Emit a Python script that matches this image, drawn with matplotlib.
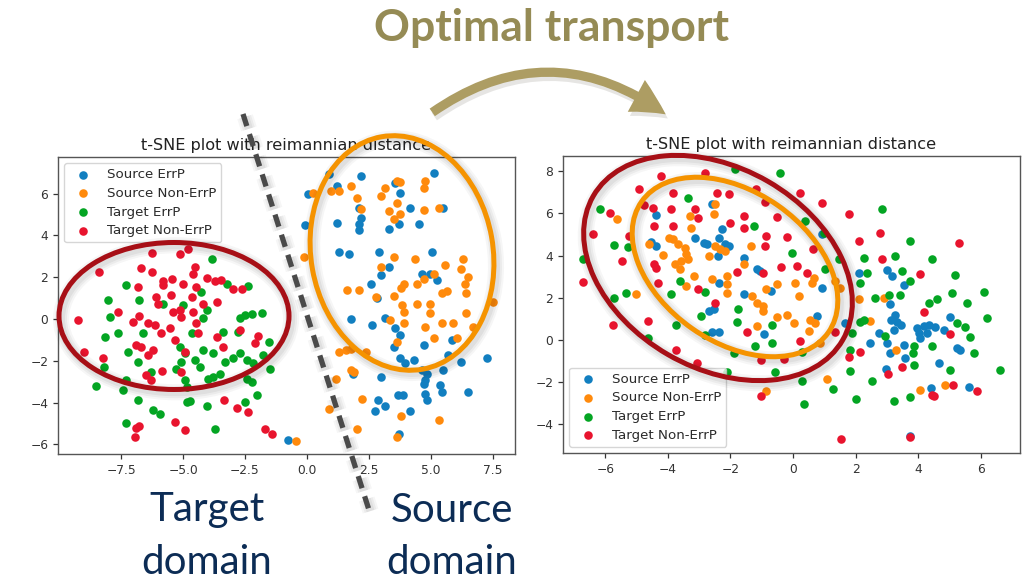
import numpy as np
import matplotlib
matplotlib.use("Agg")
import matplotlib.pyplot as plt
import matplotlib.patheffects as pe
from matplotlib.patches import Ellipse, FancyArrowPatch

# ---------------------------------------------------------------------------
# t-SNE embeddings (x, y) before adaptation
# ---------------------------------------------------------------------------
before_src_errp = np.array([
    (0.90, 6.94), (2.17, 6.86), (5.11, 6.98), (0.03, 5.96), (1.23, 6.35), (3.77, 6.03),
    (3.57, 6.51), (2.10, 5.32), (2.17, 4.85), (2.10, 4.53), (2.10, 4.25), (1.23, 4.61),
    (-0.07, 4.49), (3.30, 4.30), (3.70, 4.53), (4.51, 4.53), (4.17, 5.32), (5.51, 5.32),
    (1.30, 3.19), (1.70, 3.11), (2.90, 3.19), (5.04, 3.19), (3.30, 2.48), (2.97, 2.09),
    (2.57, 1.69), (4.64, 2.16), (4.97, 2.16), (5.24, 1.85), (2.83, 0.98),
    (1.76, -0.02), (2.63, -0.29), (3.17, 0.03), (3.57, -0.45), (3.77, -0.77), (3.50, -1.33),
    (3.77, -1.89), (3.97, -2.10), (4.73, -1.25), (4.33, -1.94), (5.71, -1.73), (5.84, -1.01),
    (6.24, -2.05), (7.25, -1.86), (4.64, -2.46), (4.84, -2.62), (4.77, -2.94), (4.71, -3.10),
    (5.51, -2.46), (5.38, -3.18), (5.44, -3.50), (4.77, -3.58), (4.84, -3.87), (6.51, -3.50),
    (3.66, -3.63), (3.86, -3.63), (3.01, -2.78), (2.87, -3.87), (3.17, -4.14), (2.74, -4.38),
    (4.17, -4.38), (3.70, -5.51), (1.86, -2.65), (-0.78, -5.79),
])
before_src_nonerrp = np.array([
    (0.23, 6.03), (0.96, 6.11), (1.30, 6.11), (1.76, 6.35), (2.03, 5.80), (2.17, 5.24),
    (2.97, 5.88), (3.17, 6.27), (3.64, 6.59), (3.77, 6.56), (4.77, 6.62), (4.73, 6.27),
    (3.64, 5.56), (3.30, 5.17), (3.50, 4.77), (3.77, 5.04), (4.71, 5.20), (5.33, 5.32),
    (-0.11, 2.95), (3.50, 2.95), (4.37, 2.88), (6.31, 2.88), (5.57, 2.56), (6.24, 2.40),
    (6.51, 2.01), (2.97, 2.51), (5.13, 2.13), (4.73, 1.93), (4.45, 1.69), (3.92, 1.69),
    (3.79, 1.50), (6.38, 1.69), (6.44, 1.22), (5.46, 1.25), (5.66, 1.34), (1.63, 1.41),
    (2.10, 1.37), (2.77, 1.06), (3.50, 1.09), (4.44, 0.74), (3.84, 0.66), (3.90, 0.35),
    (4.97, 0.74), (4.97, 0.27), (6.44, 0.27), (7.51, 0.82),
    (3.37, -0.05), (3.90, -0.21), (4.77, -0.37), (5.44, -0.21), (5.91, -0.21), (6.71, -0.37),
    (3.64, -1.09), (5.11, -0.93), (6.04, -0.93), (1.30, -1.57), (1.56, -1.49), (1.76, -1.46),
    (2.37, -1.57), (1.76, -2.46), (1.90, -2.54), (1.16, -2.86), (2.23, -3.82), (0.90, -4.30),
    (2.01, -5.26), (3.64, -5.63), (3.81, -4.62), (5.35, -4.83), (-0.43, -5.86),
])
before_tgt_errp = np.array([
    (-7.30, 1.64), (-8.04, 0.93), (-6.76, 0.93), (-5.81, 0.74), (-5.00, 0.66), (-4.26, 1.30),
    (-4.05, 0.43), (-3.85, 2.88), (-3.24, 1.69), (-2.36, 1.58), (-1.82, 0.30),
    (-7.97, 0.11), (-7.64, -0.69), (-8.14, -0.88), (-6.62, -0.69), (-4.66, -0.69), (-4.19, 0.03),
    (-3.38, -0.61), (-2.77, -0.61), (-2.70, 0.03), (-2.50, 0.19), (-2.23, 0.24), (-1.55, -1.09),
    (-7.23, -1.57), (-6.82, -2.05), (-5.14, -1.33), (-4.93, -1.65), (-4.19, -1.49), (-3.78, -1.65),
    (-3.31, -2.05), (-2.97, -1.89), (-2.70, -1.65), (-2.43, -1.97), (-2.16, -2.13), (-1.76, -1.73),
    (-4.53, -1.97), (-5.07, -2.05), (-5.27, -2.38), (-4.32, -2.30), (-6.28, -2.54), (-8.18, -2.30),
    (-8.51, -3.23), (-7.43, -3.39), (-7.30, -2.94), (-4.93, -2.94), (-4.86, -3.26), (-4.00, -2.86),
    (-3.78, -2.78), (-3.51, -2.65), (-2.43, -2.86), (-2.23, -3.02), (-1.49, -2.38), (-2.03, -3.66),
    (-2.50, -3.95), (-6.82, -3.90), (-6.22, -4.35), (-5.95, -4.54), (-4.86, -3.98), (-4.73, -3.93),
    (-4.05, -4.14), (-7.30, -4.99), (-3.72, -5.26),
])
before_tgt_nonerrp = np.array([
    (-8.40, 2.25), (-6.82, 1.53), (-6.69, 2.43), (-6.24, 2.27), (-6.24, 3.14), (-5.14, 3.11),
    (-4.82, 3.35), (-5.81, 1.82), (-5.43, 1.93), (-5.81, 1.61), (-5.00, 1.69), (-4.53, 2.48),
    (-4.59, 2.16), (-4.66, 1.06), (-4.05, 1.97), (-3.72, 1.82), (-3.45, 1.85), (-2.97, 1.45),
    (-2.64, 1.45), (-4.19, 0.74), (-3.65, 0.82), (-6.08, 1.06), (-6.01, 0.74), (-5.47, 1.14),
    (-5.41, 0.35), (-5.14, 0.43), (-4.59, 0.35), (-7.64, 0.35), (-4.46, 1.53),
    (-9.26, -0.05), (-7.03, -0.13), (-6.76, 0.14), (-6.42, -0.21), (-6.15, -0.29), (-5.07, 0.11),
    (-4.46, -0.21), (-5.88, -0.69), (-5.54, -0.45), (-5.34, -1.01), (-4.39, -0.69), (-3.65, -0.85),
    (-2.70, -0.53), (-1.96, -0.82), (-2.09, -1.17), (-8.99, -1.57), (-6.89, -1.25), (-6.69, -1.33),
    (-6.22, -1.49), (-6.42, -1.73), (-8.24, -1.89), (-4.91, -1.57), (-3.38, -1.33), (-5.84, -2.49),
    (-5.07, -2.54), (-6.49, -2.70), (-6.28, -2.91), (-3.35, -3.90), (-2.81, -4.27), (-2.36, -4.46),
    (-5.34, -4.94), (-4.93, -5.31), (-6.76, -5.10), (-6.89, -5.23), (-6.96, -5.67), (-1.69, -5.26),
    (-1.42, -5.51),
])

# ---------------------------------------------------------------------------
# t-SNE embeddings (x, y) after optimal transport
# ---------------------------------------------------------------------------
after_src_errp = np.array([
    (-4.38, 5.91), (-2.59, 6.43), (-2.27, 5.24), (-2.38, 4.85), (-3.14, 4.85), (-2.86, 4.61),
    (-2.76, 4.53), (-2.16, 4.53), (-2.05, 4.45), (-4.54, 4.64), (-4.38, 4.45), (-2.40, 3.98),
    (-1.57, 3.90), (-1.14, 3.35), (-1.06, 3.27), (-1.57, 2.16), (-0.70, 2.32), (-2.38, 2.72),
    (-2.54, 1.45), (-2.70, 1.37),
    (0.93, 5.01), (2.10, 3.19), (3.00, 3.32), (3.16, 3.03), (3.53, 2.59), (3.11, 1.69), (0.93, 2.48),
    (-2.59, 0.39), (-2.37, 0.39), (-0.92, 0.28),
    (3.27, 1.18), (3.32, 0.87), (3.13, 0.94), (3.45, 0.71), (3.21, 0.47), (3.96, 0.55),
    (4.01, 0.31), (4.17, 0.66), (4.33, 0.71), (4.54, 0.60), (4.28, 0.31), (4.06, 0.08),
    (4.81, 0.47), (5.02, 1.10), (2.73, 0.35), (2.47, -0.13), (3.00, -0.16), (3.09, -0.63),
    (3.53, -0.24), (3.59, -0.87), (4.65, -1.10), (5.23, -0.39), (5.34, -0.50), (2.98, -1.39),
    (4.41, -2.28), (5.61, -2.24), (1.67, 0.82), (0.77, 1.13), (3.72, -4.57),
])
after_src_nonerrp = np.array([
    (-5.62, 5.75), (-2.49, 6.43), (-2.54, 5.96), (-3.30, 5.88), (-3.26, 5.32), (-3.95, 4.85),
    (-3.84, 4.77), (-3.68, 4.53), (-3.46, 4.38), (-3.41, 4.06), (-3.35, 3.82), (-3.57, 3.74),
    (-3.78, 3.59), (-3.62, 3.38), (-4.59, 4.53), (-4.16, 4.01), (-2.70, 3.98), (-2.49, 4.45),
    (-2.32, 4.30), (-2.16, 4.22), (-1.35, 4.45), (-1.57, 3.59), (-3.16, 3.03), (-2.59, 2.88),
    (-2.11, 3.03), (-2.11, 2.64), (-2.11, 2.24), (-3.41, 2.56), (-5.03, 2.16), (-1.30, 2.09),
    (-1.14, 1.77), (-0.97, 1.61), (-0.97, 1.37), (-0.86, 2.40),
    (0.66, 2.95), (1.35, 2.80), (1.51, 2.48), (2.10, 1.93), (2.89, 2.01), (0.07, 2.72),
    (0.18, 2.09), (0.61, 2.69), (-0.51, 2.64),
    (-1.14, 0.66), (-0.85, -2.44),
    (-0.51, 1.10), (-0.19, 1.18), (0.04, 0.82), (0.55, 0.94), (0.71, 0.79), (0.50, 0.44),
    (0.87, -0.13), (1.09, -1.86), (2.45, 0.91), (3.30, -0.47), (4.04, -2.36), (4.86, -2.13),
])
after_tgt_errp = np.array([
    (-1.84, 8.09), (-3.37, 6.75), (-6.18, 6.19), (-1.24, 5.40), (-5.71, 4.49), (-5.28, 4.42),
    (-6.70, 3.82), (-3.62, 2.80), (-2.81, 2.27), (-3.89, 2.16), (-5.35, 2.24), (-5.73, 1.97),
    (-1.75, 1.45),
    (-0.43, 7.90), (2.84, 6.22), (0.39, 5.64), (0.98, 5.06), (-0.03, 4.11), (1.03, 3.35),
    (1.46, 3.82), (2.26, 3.90), (2.36, 3.19), (3.27, 3.98), (3.48, 3.27), (3.74, 4.69),
    (4.44, 3.82), (5.18, 3.06), (6.09, 2.27), (5.07, 2.24), (5.55, 1.74), (4.60, 1.96),
    (4.33, 1.74), (3.43, 2.13), (3.05, 2.13), (2.63, 2.01), (2.15, 2.72), (3.74, 2.80),
    (-4.62, 0.08), (-3.75, 0.71), (-2.95, 1.13), (-2.80, 0.24), (-2.12, -1.50), (-1.79, 0.87),
    (-1.88, -0.60), (-1.23, -0.28), (-0.68, 0.71), (-0.66, -0.16), (-0.58, -1.50),
    (5.23, 0.82), (5.50, 0.60), (5.66, 0.16), (5.77, -0.63), (6.21, 1.02), (2.95, 0.19),
    (1.88, 0.31), (2.15, 0.87), (2.26, 0.94), (1.83, -0.47), (3.85, -0.31), (3.83, -0.63),
    (3.85, -1.18), (4.44, -0.31), (5.02, -1.42), (1.83, -1.45), (0.29, -0.55), (0.29, -1.97),
    (1.28, -2.33), (0.34, -3.02), (2.02, -2.80), (2.52, -1.97), (3.23, -2.88), (3.72, -2.71),
    (6.60, -1.42),
])
after_tgt_nonerrp = np.array([
    (-4.22, 7.77), (-2.81, 7.93), (-4.92, 7.14), (-3.84, 6.98), (-5.84, 6.03), (-4.76, 6.38),
    (-4.49, 6.27), (-3.89, 6.19), (-3.14, 6.22), (-3.03, 5.80), (-2.43, 6.95), (-2.05, 6.90),
    (-1.19, 7.14), (-0.89, 6.54), (-1.57, 5.88), (-2.00, 5.56), (-3.84, 5.40), (-4.43, 5.40),
    (-5.24, 4.93), (-6.38, 5.01), (-5.46, 3.74), (-4.43, 3.59), (-4.38, 3.43), (-1.57, 5.32),
    (-0.86, 4.93), (-0.89, 4.45), (-6.70, 2.75), (-4.32, 2.72), (-3.03, 2.40), (-2.49, 1.77),
    (-1.78, 3.22), (-0.97, 3.16),
    (0.23, 6.98), (0.93, 6.51), (1.78, 5.96), (-0.51, 5.85), (-0.19, 4.90), (0.64, 4.33),
    (2.10, 4.69), (2.79, 5.09), (5.29, 4.61), (2.84, 3.82), (4.06, 3.11), (-0.40, 3.48),
    (0.13, 3.51), (0.45, 3.19), (4.19, 1.33),
    (-5.76, 0.71), (-4.62, 0.91), (-3.73, -0.50), (-3.08, -1.10), (-1.47, 0.39), (-1.03, -0.94),
    (-1.03, -2.65),
    (5.00, 0.28), (2.15, -0.55), (1.78, -0.82), (3.48, -1.26), (3.02, -1.61), (5.11, -2.13),
    (4.44, -2.60), (4.51, -2.68), (5.87, -2.44), (-0.28, -0.91), (0.21, -0.03), (1.35, 0.39),
    (1.53, -4.69), (3.74, -4.60),
])

labels = ["Source ErrP", "Source Non-ErrP", "Target ErrP", "Target Non-ErrP"]
colors = ["#127fc0", "#ff8a0c", "#04a523", "#e8142e"]
panel_title = "t-SNE plot with reimannian distance"

left_xticks = [-7.5, -5.0, -2.5, 0.0, 2.5, 5.0, 7.5]
left_yticks = [-6, -4, -2, 0, 2, 4, 6]
right_xticks = [-6, -4, -2, 0, 2, 4, 6]
right_yticks = [-4, -2, 0, 2, 4, 6, 8]

W, H = 1033, 587
fig = plt.figure(figsize=(W / 100, H / 100), dpi=100)
fig.patch.set_facecolor("white")

AX_COL = "#333333"


def tsne_panel(rect, groups, xlim, ylim, xticks, yticks, legend_loc):
    ax = fig.add_axes(rect)
    for pts, col, lab in zip(groups, colors, labels):
        ax.scatter(pts[:, 0], pts[:, 1], s=38, color=col, label=lab,
                   linewidths=0, zorder=2)
    ax.set_xlim(*xlim)
    ax.set_ylim(*ylim)
    ax.set_xticks(xticks)
    ax.set_yticks(yticks)
    if isinstance(xticks[0], float):
        ax.set_xticklabels([f"{t:.1f}".replace("-", "\u2212") for t in xticks])
    ax.tick_params(labelsize=8.8, colors=AX_COL, length=3.5, width=0.9)
    for sp in ax.spines.values():
        sp.set_color("#555555")
        sp.set_linewidth(1.0)
    ax.set_title(panel_title, fontsize=11.6, color="#222222", pad=5)
    leg = ax.legend(loc=legend_loc, fontsize=9.6, framealpha=0.8,
                    edgecolor="#cccccc", borderpad=0.4, labelspacing=0.42,
                    handletextpad=0.8, borderaxespad=0.45)
    for t in leg.get_texts():
        t.set_color("#2a2a2a")
    return ax


ax_l = tsne_panel([58 / W, 1 - 454 / H, 457 / W, 297 / H],
                  [before_src_errp, before_src_nonerrp, before_tgt_errp, before_tgt_nonerrp],
                  (-10.05, 8.4), (-6.46, 7.75), left_xticks, left_yticks, "upper left")
ax_r = tsne_panel([563 / W, 1 - 453 / H, 457 / W, 297 / H],
                  [after_src_errp, after_src_nonerrp, after_tgt_errp, after_tgt_nonerrp],
                  (-7.35, 7.25), (-5.36, 8.72), right_xticks, right_yticks, "lower left")

# ---------------------------------------------------------------------------
# slide annotations, drawn in pixel space on top of both panels
# ---------------------------------------------------------------------------
ov = fig.add_axes([0, 0, 1, 1], zorder=10)
ov.set_xlim(0, W)
ov.set_ylim(H, 0)
ov.axis("off")
ov.patch.set_alpha(0)


def soft_shadow(lw, dx=1.5, dy=-2.0):
    return [
        pe.SimpleLineShadow(offset=(dx, dy), shadow_color="black", alpha=0.035, linewidth=lw + 8),
        pe.SimpleLineShadow(offset=(dx, dy), shadow_color="black", alpha=0.045, linewidth=lw + 5),
        pe.SimpleLineShadow(offset=(dx, dy), shadow_color="black", alpha=0.05, linewidth=lw + 2),
        pe.Normal(),
    ]


DARK_RED = "#a70f16"
ORANGE = "#f59300"

ellipses = [
    # (cx, cy, width, height, angle, colour)
    (174, 316, 230, 147, 0, DARK_RED),
    (402, 253, 182, 236, -10, ORANGE),
    (718, 268, 288, 200, 30, DARK_RED),
    (735, 267, 228, 150, 35, ORANGE),
]
for cx, cy, w, h, ang, col in ellipses:
    e = Ellipse((cx, cy), w, h, angle=ang, fill=False, edgecolor=col, linewidth=3.6)
    e.set_path_effects(soft_shadow(3.6))
    ov.add_patch(e)

# domain separator
ov.plot([243, 369], [114, 510], color="#4a4a4a", linewidth=3.8,
        linestyle=(0, (2.4, 1.6)), solid_capstyle="butt", dash_capstyle="butt",
        path_effects=soft_shadow(3.8))

# transport arrow
arrow = FancyArrowPatch((430, 114), (668, 116), connectionstyle="arc3,rad=-0.36",
                        arrowstyle="simple,head_length=1.25,head_width=1.3,tail_width=0.33",
                        mutation_scale=20, color="#ad9d63", linewidth=0)
arrow.set_path_effects([pe.SimplePatchShadow(offset=(1.5, -3), alpha=0.12), pe.Normal()])
ov.add_patch(arrow)

ov.text(551, 28, "Optimal transport", fontsize=32, family="Lato", weight="bold",
        color="#958b55", ha="center", va="center")
NAVY = "#0c2c55"
ov.text(207, 510, "Target", fontsize=29, family="Lato", color=NAVY, ha="center", va="center")
ov.text(207, 563, "domain", fontsize=29, family="Lato", color=NAVY, ha="center", va="center")
ov.text(452, 510, "Source", fontsize=29, family="Lato", color=NAVY, ha="center", va="center")
ov.text(452, 563, "domain", fontsize=29, family="Lato", color=NAVY, ha="center", va="center")

fig.savefig("out.png", dpi=100, facecolor="white")
